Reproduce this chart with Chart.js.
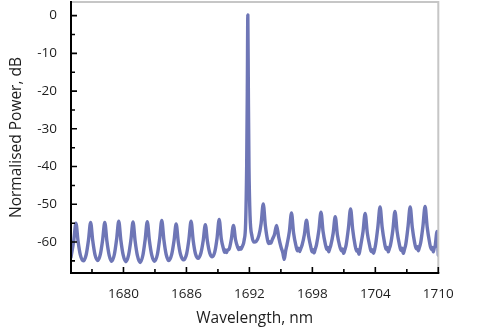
<!DOCTYPE html>
<html>
<head>
<meta charset="utf-8">
<script src="https://cdn.jsdelivr.net/npm/chart.js@4/dist/chart.umd.min.js"></script>
<style>
  html, body { margin: 0; padding: 0; background: #fff; }
  #wrap { width: 493px; height: 331px; position: relative; }
</style>
</head>
<body>
<div id="wrap"><canvas id="spectrum"></canvas></div>
<script>
// Measured laser output spectrum: wavelength (nm) and normalised power (dB)
const wavelengthNm = [
  1675.00, 1675.27, 1675.47, 1675.67, 1675.89, 1676.17,
  1676.45, 1676.67, 1676.87, 1677.07, 1677.29, 1677.55,
  1677.80, 1678.02, 1678.22, 1678.42, 1678.64, 1678.88,
  1679.13, 1679.35, 1679.55, 1679.75, 1679.97, 1680.23,
  1680.49, 1680.71, 1680.91, 1681.11, 1681.33, 1681.59,
  1681.85, 1682.07, 1682.27, 1682.47, 1682.69, 1682.96,
  1683.23, 1683.45, 1683.65, 1683.85, 1684.07, 1684.33,
  1684.60, 1684.82, 1685.02, 1685.22, 1685.44, 1685.73,
  1686.02, 1686.24, 1686.44, 1686.64, 1686.86, 1687.12,
  1687.38, 1687.60, 1687.80, 1688.00, 1688.22, 1688.46,
  1688.70, 1688.92, 1689.12, 1689.32, 1689.54, 1689.64, 1689.72, 1689.82, 1689.90,
  1690.06, 1690.28, 1690.48, 1690.68, 1690.90, 1691.00, 1691.10, 1691.20, 1691.32,
  1691.50, 1691.64, 1691.74, 1691.80, 1691.85, 1691.90, 1691.96,
  1692.06, 1692.25, 1692.45, 1692.65,
  1692.90, 1693.12, 1693.32, 1693.52, 1693.74, 1693.86, 1693.95, 1694.05,
  1694.17, 1694.39, 1694.59, 1694.79, 1695.01, 1695.18, 1695.32, 1695.45,
  1695.59, 1695.81, 1696.01, 1696.21, 1696.43, 1696.58, 1696.66, 1696.78, 1696.90,
  1697.02, 1697.24, 1697.44, 1697.64, 1697.86, 1697.98, 1698.06, 1698.16, 1698.28,
  1698.40, 1698.62, 1698.82, 1699.02, 1699.24, 1699.38, 1699.47, 1699.56, 1699.66,
  1699.76, 1699.98, 1700.18, 1700.38, 1700.60, 1700.76, 1700.86, 1700.98, 1701.10,
  1701.22, 1701.44, 1701.64, 1701.84, 1702.06, 1702.22, 1702.32, 1702.44, 1702.52,
  1702.61, 1702.83, 1703.03, 1703.23, 1703.45, 1703.60, 1703.70, 1703.82, 1703.92,
  1704.03, 1704.25, 1704.45, 1704.65, 1704.87, 1705.02, 1705.12, 1705.24, 1705.34,
  1705.45, 1705.67, 1705.87, 1706.07, 1706.29, 1706.44, 1706.54, 1706.66, 1706.78,
  1706.90, 1707.12, 1707.32, 1707.52, 1707.74, 1707.90, 1708.00, 1708.10, 1708.20,
  1708.32, 1708.54, 1708.74, 1708.94, 1709.16, 1709.32, 1709.42, 1709.52, 1709.62,
  1709.70, 1709.88, 1709.96, 1710.00
];

const powerDb = [
  -64.0, -59.5, -55.0, -59.7, -63.4, -65.0,
  -63.3, -59.4, -54.8, -59.6, -63.4, -64.9,
  -63.2, -59.3, -54.8, -59.7, -63.5, -65.1,
  -63.3, -59.2, -54.5, -59.5, -63.4, -65.2,
  -63.4, -59.4, -54.7, -59.7, -63.6, -65.4,
  -63.5, -59.3, -54.6, -59.6, -63.4, -65.1,
  -63.3, -59.1, -54.3, -59.4, -63.3, -64.9,
  -63.2, -59.6, -55.2, -59.9, -63.3, -64.7,
  -63.1, -59.2, -54.5, -59.5, -63.1, -64.3,
  -62.9, -59.6, -55.4, -59.8, -62.9, -63.9,
  -62.6, -58.9, -54.0, -59.1, -61.9, -62.7, -62.1, -62.8, -62.2,
  -61.9, -59.2, -55.6, -59.4, -61.5, -62.0, -61.5, -61.9, -61.2,
  -59.5, -55.0, -40.0, -20.0, 0.2, -20.0, -40.0,
  -53.0, -58.5, -60.0, -59.8,
  -58.3, -55.0, -49.9, -55.6, -59.6, -60.4, -59.9, -60.3,
  -59.4, -58.0, -55.6, -58.7, -61.3, -62.8, -64.6, -62.4,
  -60.6, -57.2, -52.3, -57.6, -60.9, -62.3, -61.6, -62.5, -61.7,
  -60.8, -58.0, -54.2, -58.4, -61.4, -62.6, -62.0, -62.9, -61.8,
  -60.6, -56.9, -52.1, -57.2, -60.6, -62.0, -61.4, -62.6, -61.7,
  -60.8, -57.7, -53.3, -58.0, -61.0, -62.3, -61.8, -63.0, -62.0,
  -60.7, -56.2, -51.2, -56.6, -60.7, -62.4, -62.0, -63.2, -62.3,
  -60.9, -57.2, -52.4, -57.5, -60.8, -62.5, -62.0, -63.0, -62.1,
  -60.6, -55.8, -50.7, -56.1, -60.1, -61.9, -61.4, -62.6, -61.7,
  -60.7, -56.8, -51.9, -57.1, -60.6, -62.2, -61.6, -63.0, -61.9,
  -60.6, -55.8, -50.7, -56.1, -60.1, -61.8, -61.2, -62.3, -61.4,
  -60.2, -55.7, -50.6, -56.0, -60.0, -61.9, -61.4, -62.6, -61.5,
  -61.0, -57.2, -60.8, -63.5
];

// Axis ranges and tick labels
const xRange = [1675, 1710];
const yRange = [-68.2, 3.6];
const xTickLabels = [1680, 1686, 1692, 1698, 1704, 1710];
const xMinorTicks = [1677, 1683, 1689, 1695, 1701, 1707];
const yTickLabels = [0, -10, -20, -30, -40, -50, -60];
const yMinorTicks = [-5, -15, -25, -35, -45, -55, -65];

const points = wavelengthNm.map((w, i) => ({ x: w, y: powerDb[i] }));

// Frame and inward tick marks, placed through the chart's own scales
const frameAndTicks = {
  id: 'frameAndTicks',
  afterDatasetsDraw(chart) {
    const { ctx, chartArea: a, scales: { x, y } } = chart;
    ctx.save();
    ctx.lineCap = 'butt';
    // light top and right border
    ctx.strokeStyle = '#c6c6c6';
    ctx.lineWidth = 2;
    ctx.beginPath();
    ctx.moveTo(a.left, a.top);
    ctx.lineTo(a.right, a.top);
    ctx.lineTo(a.right, a.bottom);
    ctx.stroke();
    // black left and bottom axes
    ctx.strokeStyle = '#000';
    ctx.lineWidth = 2;
    ctx.beginPath();
    ctx.moveTo(a.left, a.top - 1);
    ctx.lineTo(a.left, a.bottom);
    ctx.lineTo(a.right + 1, a.bottom);
    ctx.stroke();
    ctx.lineWidth = 1.6;
    ctx.beginPath();
    xTickLabels.forEach(v => { const px = x.getPixelForValue(v); ctx.moveTo(px, a.bottom); ctx.lineTo(px, a.bottom - 6); });
    xMinorTicks.forEach(v => { const px = x.getPixelForValue(v); ctx.moveTo(px, a.bottom); ctx.lineTo(px, a.bottom - 4); });
    yTickLabels.forEach(v => { const py = y.getPixelForValue(v); ctx.moveTo(a.left, py); ctx.lineTo(a.left + 6, py); });
    yMinorTicks.forEach(v => { const py = y.getPixelForValue(v); ctx.moveTo(a.left, py); ctx.lineTo(a.left + 4, py); });
    ctx.stroke();
    ctx.restore();
  }
};

const tickFont = { family: "'Open Sans', sans-serif", size: 13.5 };
const titleFont = { family: "'Open Sans', sans-serif", size: 15.5 };

new Chart(document.getElementById('spectrum'), {
  type: 'line',
  data: {
    datasets: [{
      data: points,
      borderColor: 'rgb(110,118,182)',
      borderWidth: 3.4,
      pointRadius: 0,
      fill: false,
      cubicInterpolationMode: 'monotone',
      borderJoinStyle: 'round',
      borderCapStyle: 'round'
    }]
  },
  options: {
    responsive: true,
    maintainAspectRatio: false,
    animation: false,
    devicePixelRatio: 1,
    layout: { padding: { top: 2, right: 54.7, bottom: 0, left: 0 } },
    plugins: { legend: { display: false }, tooltip: { enabled: false } },
    scales: {
      x: {
        type: 'linear',
        min: xRange[0],
        max: xRange[1],
        grid: { display: false },
        border: { display: false },
        afterBuildTicks: s => { s.ticks = xTickLabels.map(v => ({ value: v })); },
        afterFit: s => { s.height = 58; s.paddingLeft = 0; s.paddingRight = 0; },
        ticks: {
          autoSkip: false, maxRotation: 0, padding: 5,
          color: '#1e1e1e', font: tickFont,
          callback: v => String(v)
        },
        title: {
          display: true, text: 'Wavelength, nm',
          color: '#1e1e1e', font: titleFont,
          padding: { top: 0, bottom: 3 }
        }
      },
      y: {
        type: 'linear',
        min: yRange[0],
        max: yRange[1],
        grid: { display: false },
        border: { display: false },
        afterBuildTicks: s => { s.ticks = yTickLabels.map(v => ({ value: v })); },
        afterFit: s => { s.width = 71; s.paddingTop = 0; s.paddingBottom = 0; },
        ticks: {
          autoSkip: false, padding: 6,
          color: '#1e1e1e', font: tickFont,
          callback: v => String(v)
        },
        title: {
          display: true, text: 'Normalised Power, dB',
          color: '#1e1e1e', font: titleFont,
          padding: { top: 7, bottom: 0 }
        }
      }
    }
  },
  plugins: [frameAndTicks]
});
</script>
</body>
</html>
